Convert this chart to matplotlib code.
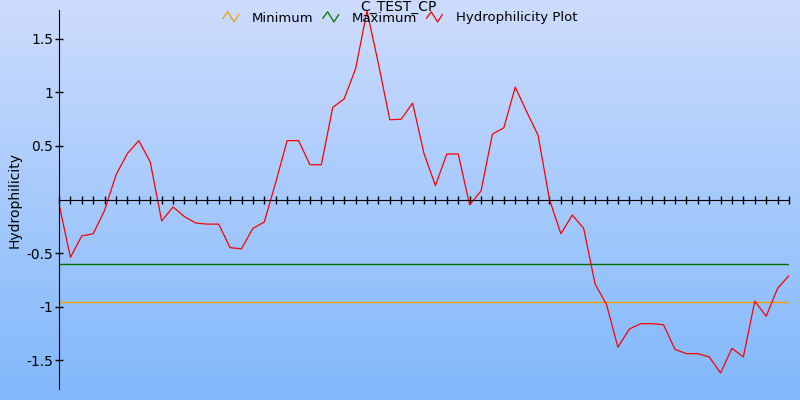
import numpy as np
import matplotlib
matplotlib.use('Agg')
import matplotlib.pyplot as plt
from matplotlib.legend_handler import HandlerBase
from matplotlib.lines import Line2D

# hydrophilicity per window position
hydro = [-0.04, -0.54, -0.34, -0.32, -0.10, 0.23, 0.43, 0.55, 0.35, -0.20,
         -0.07, -0.16, -0.22, -0.23, -0.23, -0.45, -0.46, -0.27, -0.21, 0.16,
         0.55, 0.55, 0.325, 0.325, 0.86, 0.94, 1.22, 1.76, 1.27, 0.745,
         0.75, 0.90, 0.43, 0.13, 0.425, 0.425, -0.05, 0.08, 0.61, 0.67,
         1.05, 0.82, 0.60, 0.0, -0.32, -0.145, -0.27, -0.79, -0.98, -1.38,
         -1.21, -1.16, -1.16, -1.17, -1.40, -1.44, -1.44, -1.47, -1.62, -1.39,
         -1.47, -0.95, -1.09, -0.83, -0.71]
min_level = -0.96
max_level = -0.60
ytick_vals = [-1.5, -1, -0.5, 0.5, 1, 1.5]
ytick_labels = ['-1.5', '-1', '-0.5', '0.5', '1', '1.5']

x = np.arange(len(hydro))


class Zigzag(HandlerBase):
    # little "/\/" icon like the original legend
    def create_artists(self, legend, orig, xd, yd, w, h, fs, trans):
        xs = np.array([0, 0.3, 0.7, 1.0]) * w - xd
        ys = np.array([0.35, 1.05, -0.05, 0.75]) * h - yd
        ln = Line2D(xs, ys, color=orig.get_color(), lw=0.9)
        ln.set_transform(trans)
        return [ln]


fig = plt.figure(figsize=(8, 4), dpi=100)

# gradient background
bg = fig.add_axes([0, 0, 1, 1])
grad = np.linspace(0, 1, 256).reshape(-1, 1)
top = np.array([205, 220, 253]) / 255
bot = np.array([128, 184, 251]) / 255
img = top[None, None, :] * (1 - grad[:, :, None]) + bot[None, None, :] * grad[:, :, None]
bg.imshow(img, aspect='auto', extent=[0, 1, 0, 1])
bg.axis('off')

ax = fig.add_axes([59 / 800, 11 / 400, 730 / 800, 379 / 400])
ax.patch.set_alpha(0)

l_min, = ax.plot(x, [min_level] * len(x), color='#f0a000', lw=1)
l_max, = ax.plot(x, [max_level] * len(x), color='#007000', lw=1)
l_h, = ax.plot(x, hydro, color='#ff0000', lw=0.9)

ax.set_xlim(0, len(hydro) - 1)
ax.set_ylim(-1.77, 1.77)
ax.spines['top'].set_visible(False)
ax.spines['right'].set_visible(False)
ax.spines['bottom'].set_position(('data', 0))
ax.set_xticks(x)
ax.tick_params(axis='x', direction='inout', length=6, width=1, labelbottom=False)
ax.set_yticks(ytick_vals)
ax.set_yticklabels(ytick_labels)
ax.tick_params(axis='y', direction='inout', length=6, width=1, labelsize=10, pad=1)

fig.text(59 / 800 - 0.055, 0.5, 'Hydrophilicity', rotation=90, ha='center', va='center', fontsize=10)
fig.text(398 / 800, 1.0, 'C_TEST_CP', ha='center', va='top', fontsize=10)

fig.legend([l_min, l_max, l_h], ['Minimum', 'Maximum', 'Hydrophilicity Plot'],
           handler_map={Line2D: Zigzag()}, loc='center', bbox_to_anchor=(400 / 800, 1 - 18 / 400),
           ncol=3, frameon=False, fontsize=9.5, handlelength=1.2, handletextpad=1.0,
           columnspacing=0.7, borderpad=0)

fig.savefig('out.png', dpi=100)
